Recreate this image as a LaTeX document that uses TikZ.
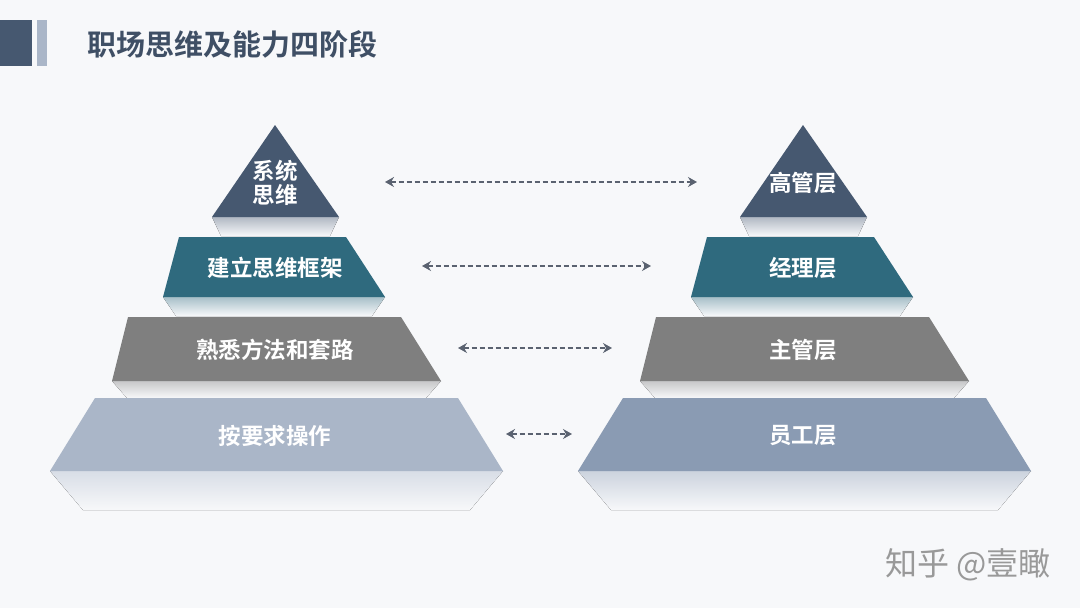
\documentclass[tikz,border=0pt]{standalone}
\usepackage{fontspec}
\newfontfamily\cjk{Noto Sans CJK SC Bold}
\newfontfamily\cjkr{Noto Sans CJK SC}
\usetikzlibrary{arrows.meta}
\definecolor{bg}{HTML}{F7F8FA}
\definecolor{cA}{HTML}{465870}
\definecolor{cB}{HTML}{2F6A7E}
\definecolor{cC}{HTML}{7F7F7F}
\definecolor{cDL}{HTML}{AAB6C8}
\definecolor{cDR}{HTML}{8A9BB3}
\definecolor{arr}{HTML}{5A6270}
\tikzset{lbl/.style={text=white,font=\cjk\fontsize{22.5}{25}\selectfont,align=center},
  refl/.style={top color=#1!40!bg,bottom color=bg,draw=none},
  link/.style={arr,line width=1.8pt,dash pattern=on 5pt off 3pt,{Stealth[length=9pt,width=10pt,inset=3pt]}-{Stealth[length=9pt,width=10pt,inset=3pt]}}}
\begin{document}
\begin{tikzpicture}[x=1pt,y=-1pt]
\fill[bg] (0,0) rectangle (1080,608);
\useasboundingbox (0,0) rectangle (1080,608);
\fill[cA] (0,20) rectangle (32,66);
\fill[cDL] (37,20) rectangle (47,66);
\node[anchor=west,text=cA!90!black,font=\cjk\fontsize{29}{32}\selectfont] (title) at (84,44) {职场思维及能力四阶段};
\foreach \s/\d/\n in {0/cDL/L,528/cDR/R}{
\begin{scope}[xshift=\s]
\fill[refl=cA] (212,217) -- (339,217) -- (330,236) -- (221,236) -- cycle;
\fill[refl=cB] (163,297) -- (385,297) -- (372,316) -- (176,316) -- cycle;
\fill[refl=cC] (112,381) -- (441,381) -- (426,398) -- (127,398) -- cycle;
\fill[refl=\d] (50,471) -- (503,471) -- (470,510) -- (83,510) -- cycle;
\fill[cA] (275,125) -- (339,217) -- (212,217) -- cycle;
\fill[cB] (179,237) -- (346,237) -- (385,297) -- (163,297) -- cycle;
\fill[cC] (128,317) -- (401,317) -- (441,381) -- (112,381) -- cycle;
\fill[\d] (95,398) -- (458,398) -- (503,471) -- (50,471) -- cycle;
\end{scope}}
\node[lbl] (a1) at (275,183) {系统\\[-1pt]思维};
\node[lbl] (a2) at (275,268) {建立思维框架};
\node[lbl] (a3) at (275,350) {熟悉方法和套路};
\node[lbl] (a4) at (275,436) {按要求操作};
\node[lbl] (b1) at (803,183) {高管层};
\node[lbl] (b2) at (803,268) {经理层};
\node[lbl] (b3) at (803,350) {主管层};
\node[lbl] (b4) at (803,436) {员工层};
\coordinate (l1) at (385,182); \coordinate (r1) at (697,182);
\coordinate (l2) at (422,266); \coordinate (r2) at (651,266);
\coordinate (l3) at (458,348); \coordinate (r3) at (612,348);
\coordinate (l4) at (506,434); \coordinate (r4) at (572,434);
\foreach \i in {1,2,3,4} \draw[link] (l\i) -- (r\i);
\node[anchor=east,text=gray!80,font=\cjkr\fontsize{32}{35}\selectfont] (wm) at (1054,565) {知乎 @壹瞰};
\end{tikzpicture}
\end{document}
